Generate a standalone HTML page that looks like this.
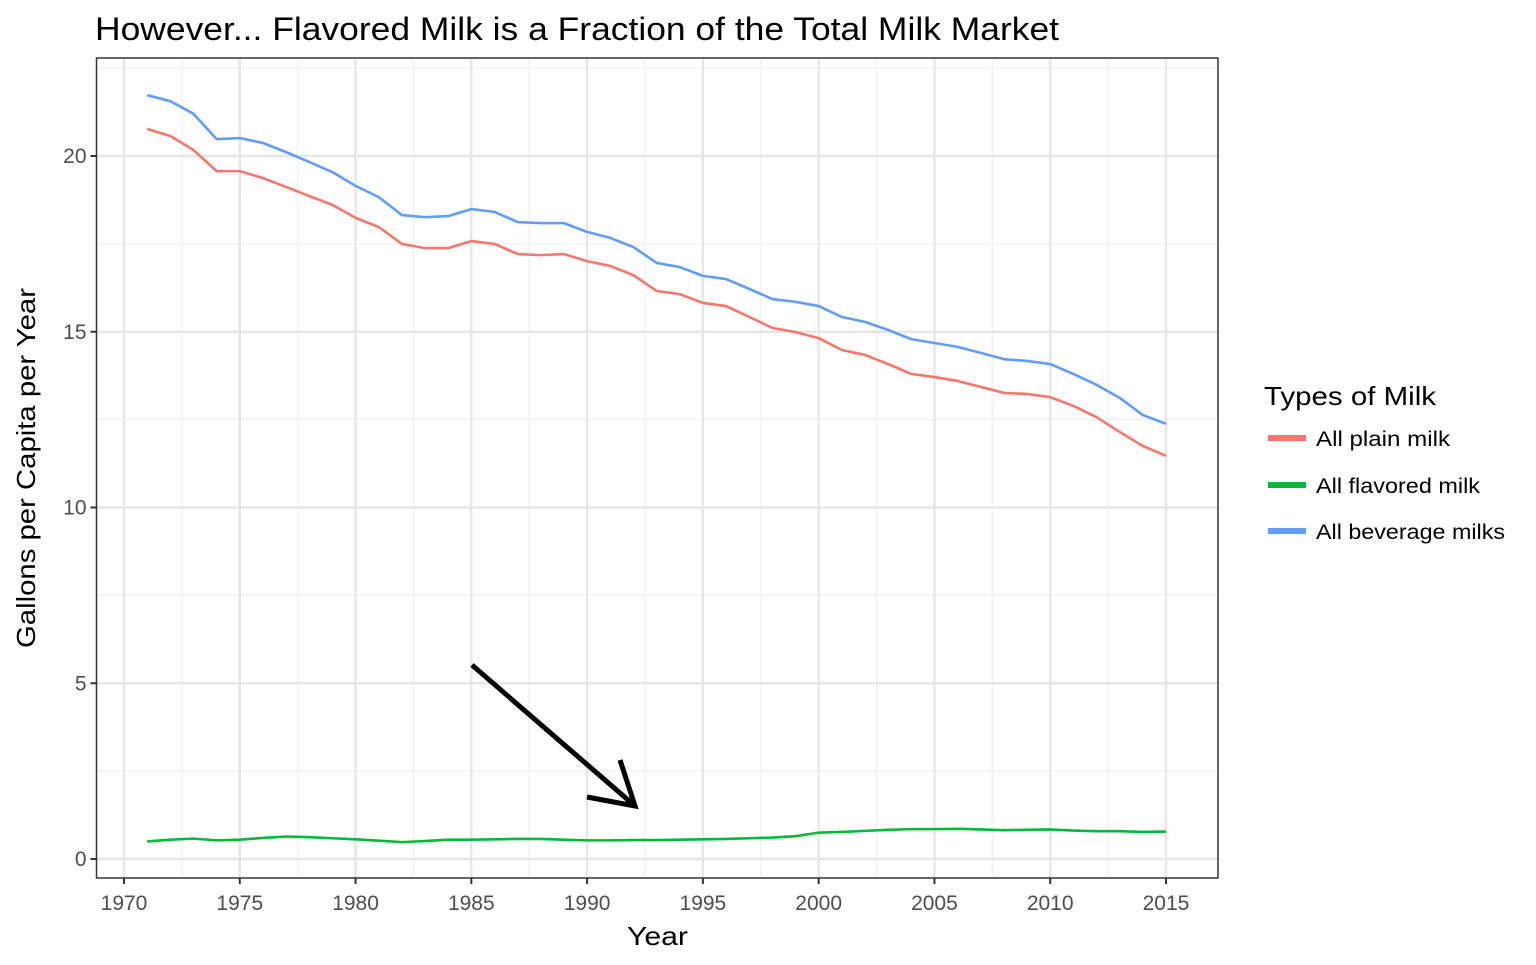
<!DOCTYPE html>
<html><head><meta charset="utf-8"><style>
body{margin:0;background:#fff;font-family:"Liberation Sans",Arial,sans-serif}
svg text{font-family:"Liberation Sans",Arial,sans-serif}
</style></head><body>
<svg id="chart" width="1536" height="960" xmlns="http://www.w3.org/2000/svg">
<text x="95" y="40" font-size="32" textLength="964" lengthAdjust="spacingAndGlyphs" fill="#000">However... Flavored Milk is a Fraction of the Total Milk Market</text>
<g id="grid"></g>
<g id="series"></g>
<g id="axes"></g>
<text x="627" y="945" font-size="26" textLength="61" lengthAdjust="spacingAndGlyphs" fill="#000">Year</text>
<text transform="translate(35,648) rotate(-90)" font-size="26" textLength="360" lengthAdjust="spacingAndGlyphs" fill="#000">Gallons per Capita per Year</text>
<g stroke="#000" stroke-width="5" fill="none">
<line x1="472" y1="665" x2="635" y2="806"/>
<polyline points="620,760 635,806 587,797"/>
</g>
<g>
<text x="1264" y="405" font-size="26" textLength="172" lengthAdjust="spacingAndGlyphs" fill="#000">Types of Milk</text>
<g><line x1="1268" x2="1306" y1="438" y2="438" stroke="#F8766D" stroke-width="6"/><text x="1316" y="446" font-size="21" textLength="134" lengthAdjust="spacingAndGlyphs">All plain milk</text></g>
<g><line x1="1268" x2="1306" y1="485" y2="485" stroke="#00BA38" stroke-width="6"/><text x="1316" y="493" font-size="21" textLength="164" lengthAdjust="spacingAndGlyphs">All flavored milk</text></g>
<g><line x1="1268" x2="1306" y1="531" y2="531" stroke="#619CFF" stroke-width="6"/><text x="1316" y="539" font-size="21" textLength="189" lengthAdjust="spacingAndGlyphs">All beverage milks</text></g>
</g>
</svg>
<script>
const years=[1971,1972,1973,1974,1975,1976,1977,1978,1979,1980,1981,1982,1983,1984,1985,1986,1987,1988,1989,1990,1991,1992,1993,1994,1995,1996,1997,1998,1999,2000,2001,2002,2003,2004,2005,2006,2007,2008,2009,2010,2011,2012,2013,2014,2015];
const beverage=[21.73,21.56,21.2,20.48,20.51,20.37,20.11,19.83,19.54,19.15,18.83,18.32,18.26,18.29,18.49,18.41,18.12,18.09,18.09,17.84,17.67,17.41,16.96,16.84,16.59,16.5,16.22,15.93,15.85,15.73,15.42,15.28,15.05,14.79,14.68,14.57,14.4,14.22,14.17,14.08,13.8,13.49,13.12,12.63,12.38];
const plain=[20.77,20.57,20.17,19.57,19.57,19.37,19.12,18.86,18.61,18.24,17.98,17.5,17.38,17.38,17.58,17.5,17.21,17.18,17.21,17.01,16.87,16.61,16.16,16.07,15.82,15.73,15.42,15.11,14.99,14.82,14.48,14.34,14.08,13.8,13.71,13.6,13.43,13.26,13.23,13.14,12.89,12.57,12.15,11.75,11.47];
const flavored=[0.5,0.55,0.58,0.53,0.55,0.6,0.64,0.62,0.59,0.56,0.52,0.48,0.51,0.55,0.55,0.56,0.57,0.57,0.55,0.53,0.53,0.54,0.54,0.55,0.56,0.57,0.59,0.61,0.65,0.75,0.77,0.8,0.83,0.85,0.85,0.86,0.84,0.82,0.83,0.84,0.81,0.79,0.79,0.77,0.78];
const xTicks=[1970,1975,1980,1985,1990,1995,2000,2005,2010,2015];
const yTicks=[0,5,10,15,20];
const NS="http://www.w3.org/2000/svg";
const L=96.5,R=1218,T=58,B=878;
const x=v=>124+(v-1970)*23.155;
const y=v=>859-v*35.15;
function mk(tag,attrs,parent){const e=document.createElementNS(NS,tag);for(const k in attrs)e.setAttribute(k,attrs[k]);parent.appendChild(e);return e;}
const grid=document.getElementById('grid'),axes=document.getElementById('axes'),series=document.getElementById('series');
mk('rect',{x:L,y:T,width:R-L,height:B-T,fill:'#fff'},grid);
for(let yr=1967.5;yr<=2020;yr+=5){const gx=x(yr);if(gx>L&&gx<R){const g=mk('line',{x1:gx,x2:gx,y1:T,y2:B,stroke:'#f0f0f0','stroke-width':1.2},grid);}}
for(let v=-2.5;v<=25;v+=5){const gy=y(v);if(gy>T&&gy<B){const g=mk('line',{x1:L,x2:R,y1:gy,y2:gy,stroke:'#f0f0f0','stroke-width':1.2},grid);}}
xTicks.forEach(t=>{const g=mk('line',{x1:x(t),x2:x(t),y1:T,y2:B,stroke:'#e6e6e6','stroke-width':2.4},grid);
const tk=mk('line',{x1:x(t),x2:x(t),y1:B,y2:B+6,stroke:'#333','stroke-width':2},axes);
const tx=mk('text',{x:x(t),y:910,'font-size':21,'text-anchor':'middle',fill:'#4d4d4d'},axes);tx.textContent=t;});
yTicks.forEach(t=>{const g=mk('line',{x1:L,x2:R,y1:y(t),y2:y(t),stroke:'#e6e6e6','stroke-width':2.4},grid);
const tk=mk('line',{x1:L-6,x2:L,y1:y(t),y2:y(t),stroke:'#333','stroke-width':2},axes);
const tx=mk('text',{x:L-10,y:y(t)+7,'font-size':21,'text-anchor':'end',fill:'#4d4d4d'},axes);tx.textContent=t;});
const border=mk('rect',{x:L,y:T,width:R-L,height:B-T,fill:'none',stroke:'#333','stroke-width':1.5},axes);

[[plain,'#F8766D','line-plain-milk'],[flavored,'#00BA38','line-flavored-milk'],[beverage,'#619CFF','line-beverage-milks']].forEach(([d,c,n])=>{
const p=mk('polyline',{points:d.map((v,i)=>x(years[i])+','+y(v)).join(' '),fill:'none',stroke:c,'stroke-width':2.6,'stroke-linejoin':'round'},series);

});
</script>
</body></html>
